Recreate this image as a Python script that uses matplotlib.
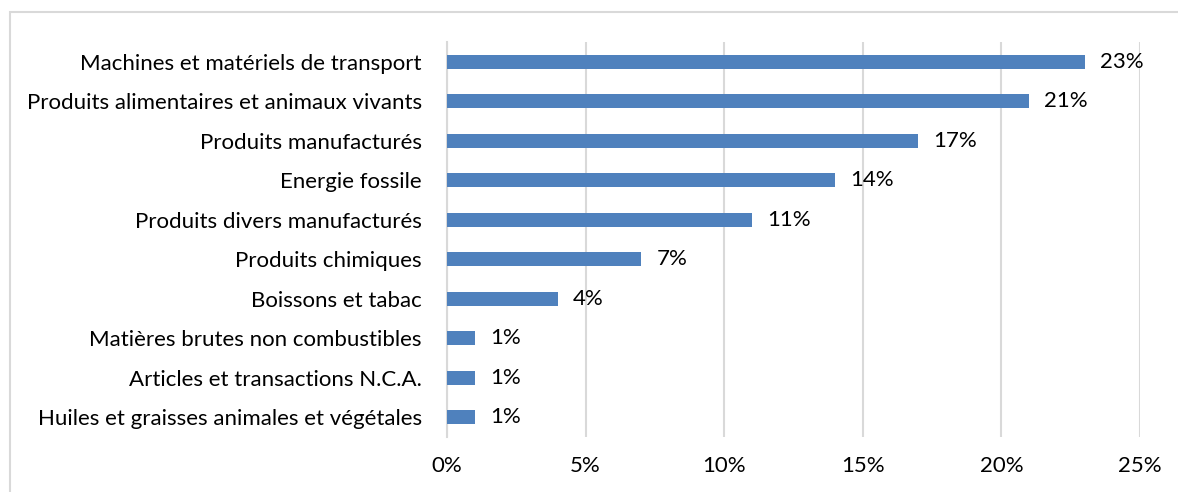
import matplotlib
matplotlib.use("Agg")
import matplotlib.pyplot as plt
from matplotlib.patches import Rectangle
from matplotlib.ticker import FuncFormatter

categories = [
    "Machines et matériels de transport",
    "Produits alimentaires et animaux vivants",
    "Produits manufacturés",
    "Energie fossile",
    "Produits divers manufacturés",
    "Produits chimiques",
    "Boissons et tabac",
    "Matières brutes non combustibles",
    "Articles et transactions N.C.A.",
    "Huiles et graisses animales et végétales",
]
values = [23, 21, 17, 14, 11, 7, 4, 1, 1, 1]
labels = ["23%", "21%", "17%", "14%", "11%", "7%", "4%", "1%", "1%", "1%"]
xticks = [0, 5, 10, 15, 20, 25]

plt.rcParams['font.family'] = ['Lato', 'DejaVu Sans']
W, H = 1178, 492
FS = 16
fig = plt.figure(figsize=(W/100, H/100), dpi=100)
fig.patch.set_facecolor('white')
fig.patches.append(Rectangle((10/W, -0.1), 1.2, 1 - 12/H + 0.1, transform=fig.transFigure,
                             fill=False, edgecolor='#D9D9D9', linewidth=1.5, zorder=0))

ax = fig.add_axes([447/W, 1 - 437/H, (1140-447)/W, (437-42)/H])
pos = list(range(len(categories)))
ax.barh(pos, values, height=0.36, color='#4F81BD', zorder=3)
for p, v, l in zip(pos, values, labels):
    ax.text(v + 0.55, p, l, va='center', ha='left', fontsize=FS, color='#000000')

ax.set_xlim(0, 25)
ax.set_ylim(len(categories) - 0.5, -0.5)
ax.set_xticks(xticks)
ax.xaxis.set_major_formatter(FuncFormatter(lambda x, _: f"{int(x)}%"))
ax.set_yticks(pos)
ax.set_yticklabels(categories)
ax.tick_params(axis='both', length=0, labelsize=FS, colors='#000000')
ax.tick_params(axis='x', pad=14)
ax.tick_params(axis='y', pad=18)
ax.grid(axis='x', color='#D9D9D9', linewidth=1.5, zorder=0)
for s in ['top', 'right', 'bottom']:
    ax.spines[s].set_visible(False)
ax.spines['left'].set_color('#D9D9D9')
ax.spines['left'].set_linewidth(1.5)

fig.savefig('out.png', dpi=100)
